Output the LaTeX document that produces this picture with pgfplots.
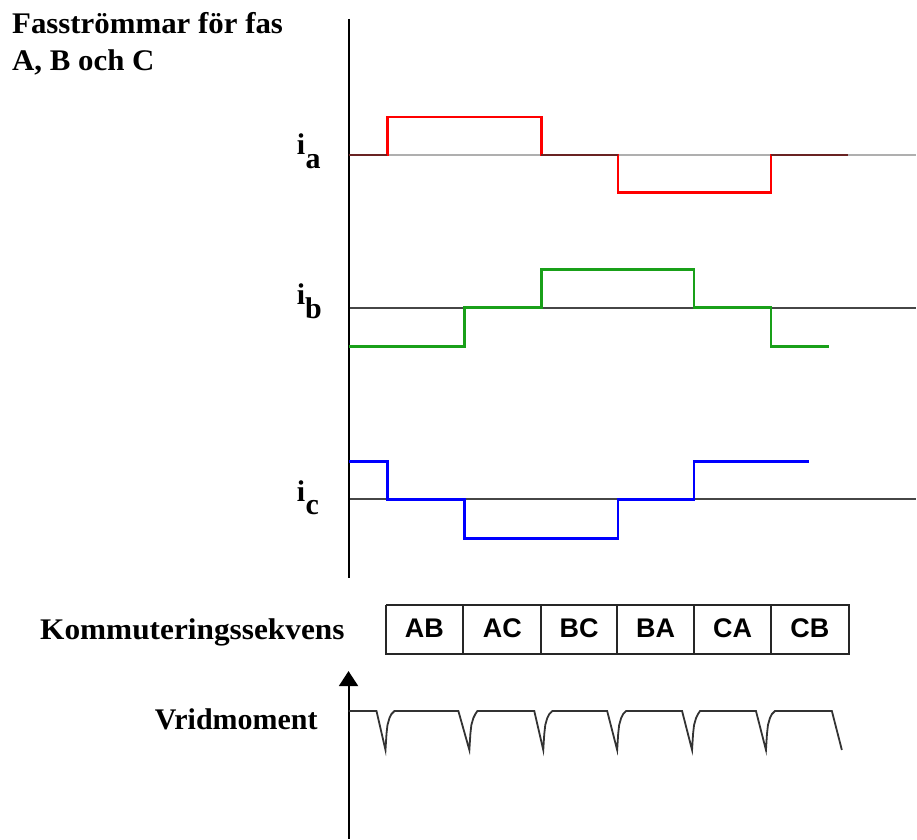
\documentclass[border=0pt]{standalone}
\usepackage{pgfplots}
\pgfplotsset{compat=1.18}
\usepackage{fontspec}
\setmainfont{Liberation Serif}
\newfontfamily\arial{Liberation Sans}
\usetikzlibrary{arrows.meta}
\definecolor{darkred}{RGB}{105,35,35}
\definecolor{zgray}{RGB}{175,175,175}
\definecolor{axgray}{RGB}{70,70,70}
\definecolor{mygreen}{RGB}{25,160,25}
\newcommand{\bigtxt}{\fontsize{30bp}{36bp}\selectfont\bfseries}
\newcommand{\lab}[1]{\fontsize{27bp}{30bp}\selectfont\arial\bfseries #1}
\begin{document}
\begin{tikzpicture}
\begin{axis}[
  width=917bp, height=840bp, scale only axis,
  xmin=0, xmax=917, ymin=0, ymax=840, y dir=reverse,
  axis line style={draw=none}, ticks=none, clip=false,
]
% zero lines
\addplot[zgray, line width=2.5bp] coordinates {(349,155) (917,155)};
\addplot[axgray, line width=2bp] coordinates {(349,308) (917,308)};
\addplot[axgray, line width=2bp] coordinates {(349,500) (917,500)};
% vertical axes
\addplot[black, line width=2bp] coordinates {(349,19) (349,579)};
\addplot[black, line width=2bp, -{Triangle[width=19bp,length=15bp]}] coordinates {(349,840) (349,672)};
% i_a
\addplot[red, line width=2.5bp] coordinates {(349,155) (388,155) (388,117) (542,117) (542,155) (619,155) (619,193) (772,193) (772,155) (849,155)};
\addplot[darkred, line width=2.5bp] coordinates {(349,155) (388,155)};
\addplot[darkred, line width=2.5bp] coordinates {(542,155) (619,155)};
\addplot[darkred, line width=2.5bp] coordinates {(772,155) (849,155)};
% i_b
\addplot[mygreen, line width=2.5bp] coordinates {(349,347) (465,347) (465,308) (542,308) (542,270) (695,270) (695,308) (772,308) (772,347) (830,347)};
% i_c
\addplot[blue, line width=2.5bp] coordinates {(349,462) (388,462) (388,500) (465,500) (465,539) (619,539) (619,500) (695,500) (695,462) (810,462)};
% commutation boxes
\addplot[black!85, line width=2bp] coordinates {(387,606) (850,606) (850,655) (387,655) (387,606)};
\addplot[black!85, line width=2bp] coordinates {(464,606) (464,655)};
\addplot[black!85, line width=2bp] coordinates {(542,606) (542,655)};
\addplot[black!85, line width=2bp] coordinates {(618,606) (618,655)};
\addplot[black!85, line width=2bp] coordinates {(695,606) (695,655)};
\addplot[black!85, line width=2bp] coordinates {(772,606) (772,655)};
% torque
\addplot[black!80, line width=1.8bp] coordinates {
(349,712) (377,712) (386,751) (387,735) (388,726) (390,719) (392,715) (395,712)
(459,712) (470,751) (471,735) (472,726) (474,719) (476,715) (478,712)
(535,712) (544,751) (545,735) (546,726) (548,719) (550,715) (553,712)
(608,712) (618,751) (619,735) (620,726) (622,719) (624,715) (627,712)
(683,712) (693,751) (694,735) (695,726) (697,719) (699,715) (701,712)
(757,712) (767,751) (768,735) (769,726) (771,719) (773,715) (776,712)
(833,712) (843,751)};
% texts
\node[anchor=base west, inner sep=0pt] at (axis cs:12,34) {\bigtxt\scalebox{1.03}[1]{Fasströmmar för fas}};
\node[anchor=base west, inner sep=0pt] at (axis cs:12,71) {\bigtxt\scalebox{1.03}[1]{A, B och C}};
\node[anchor=base west, inner sep=0pt] at (axis cs:40,640) {\bigtxt\scalebox{1.045}[1]{Kommuteringssekvens}};
\node[anchor=base west, inner sep=0pt] at (axis cs:155,730) {\bigtxt Vridmoment};
\node[anchor=base west, inner sep=0pt] at (axis cs:297,155) {\bigtxt i\kern0.5bp\raisebox{-14bp}{a}};
\node[anchor=base west, inner sep=0pt] at (axis cs:297,305) {\bigtxt i\kern0bp\raisebox{-14bp}{b}};
\node[anchor=base west, inner sep=0pt] at (axis cs:297,502) {\bigtxt i\kern0.5bp\raisebox{-13bp}{c}};
\node[anchor=base, inner sep=0pt] at (axis cs:425,638) {\lab{AB}};
\node[anchor=base, inner sep=0pt] at (axis cs:503,638) {\lab{AC}};
\node[anchor=base, inner sep=0pt] at (axis cs:580,638) {\lab{BC}};
\node[anchor=base, inner sep=0pt] at (axis cs:656.5,638) {\lab{BA}};
\node[anchor=base, inner sep=0pt] at (axis cs:733.5,638) {\lab{CA}};
\node[anchor=base, inner sep=0pt] at (axis cs:811,638) {\lab{CB}};
\end{axis}
\end{tikzpicture}
\end{document}
